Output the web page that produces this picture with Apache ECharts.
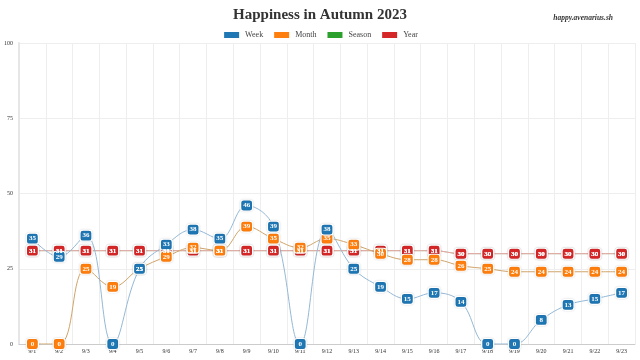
<!DOCTYPE html>
<html><head><meta charset="utf-8">
<script src="https://cdn.jsdelivr.net/npm/echarts@6/dist/echarts.min.js"></script>
<style>html,body{margin:0;padding:0;background:#fff}#c{width:640px;height:360px}</style>
</head><body><div id="c"></div>
<script>
const dates = ['9/1','9/2','9/3','9/4','9/5','9/6','9/7','9/8','9/9','9/10','9/11','9/12','9/13','9/14','9/15','9/16','9/17','9/18','9/19','9/20','9/21','9/22','9/23'];
const week = [35,29,36,0,25,33,38,35,46,39,0,38,25,19,15,17,14,0,0,8,13,15,17];
const month = [0,0,25,19,25,29,32,31,39,35,32,35,33,30,28,28,26,25,24,24,24,24,24];
const season = [31,31,31,31,31,31,31,31,31,31,31,31,31,31,31,31,30,30,30,30,30,30,30];
const year = [31,31,31,31,31,31,31,31,31,31,31,31,31,31,31,31,30,30,30,30,30,30,30];
const yTicks = [0,25,50,75,100];

const FONT = 'Liberation Serif';
function mk(name, data, color, lineColor) {
  return {
    name, type: 'line', data, smooth: 0.4,
    symbol: 'roundRect', symbolSize: [12, 11],
    itemStyle: { color, borderColor: '#fff', borderWidth: 1.2, shadowColor: 'rgba(0,0,0,0.15)', shadowBlur: 2 },
    lineStyle: { color: lineColor, width: 1 },
    label: { show: true, position: 'inside', color: '#fff', fontSize: 7, fontWeight: 'bold', fontFamily: FONT },
    emphasis: { disabled: true }
  };
}
const chart = echarts.init(document.getElementById('c'));
chart.setOption({
  animation: false,
  title: [
    { text: 'Happiness in Autumn 2023', left: 'center', top: 3, textStyle: { fontFamily: FONT, fontSize: 15, fontWeight: 'bold', color: '#333' } },
    { text: 'happy.avenarius.sh', right: 22, top: 9, textStyle: { fontFamily: FONT, fontSize: 7.5, fontStyle: 'italic', fontWeight: 'bold', color: '#333' } }
  ],
  legend: {
    top: 25, left: 'center', itemWidth: 17, itemHeight: 8, itemGap: 9, icon: 'rect',
    textStyle: { fontFamily: FONT, fontSize: 8, color: '#444' },
    data: ['Week','Month','Season','Year']
  },
  grid: { left: 19, right: 5, top: 43, bottom: 16 },
  xAxis: {
    type: 'category', data: dates, boundaryGap: true,
    axisLine: { lineStyle: { color: '#ccc' } },
    axisTick: { show: false },
    axisLabel: { fontSize: 6, color: '#333', fontFamily: FONT, margin: 4 },
    splitLine: { show: true, lineStyle: { color: '#eee' } }
  },
  yAxis: {
    type: 'value', min: 0, max: 100, interval: 25,
    axisLine: { show: true, lineStyle: { color: '#e6e6e6', width: 2 } },
    axisTick: { show: false },
    axisLabel: { fontSize: 6, color: '#333', fontFamily: FONT, margin: 6, formatter: v => yTicks.includes(v) ? String(v) : '' },
    splitLine: { lineStyle: { color: '#eee' } }
  },
  series: [
    mk('Season', season, '#2ca02c', '#a3d3a3'),
    mk('Year', year, '#d62728', '#eba3a3'),
    mk('Month', month, '#ff7f0e', '#cfa469'),
    mk('Week', week, '#1f77b4', '#94b8d6')
  ]
});
</script></body></html>
